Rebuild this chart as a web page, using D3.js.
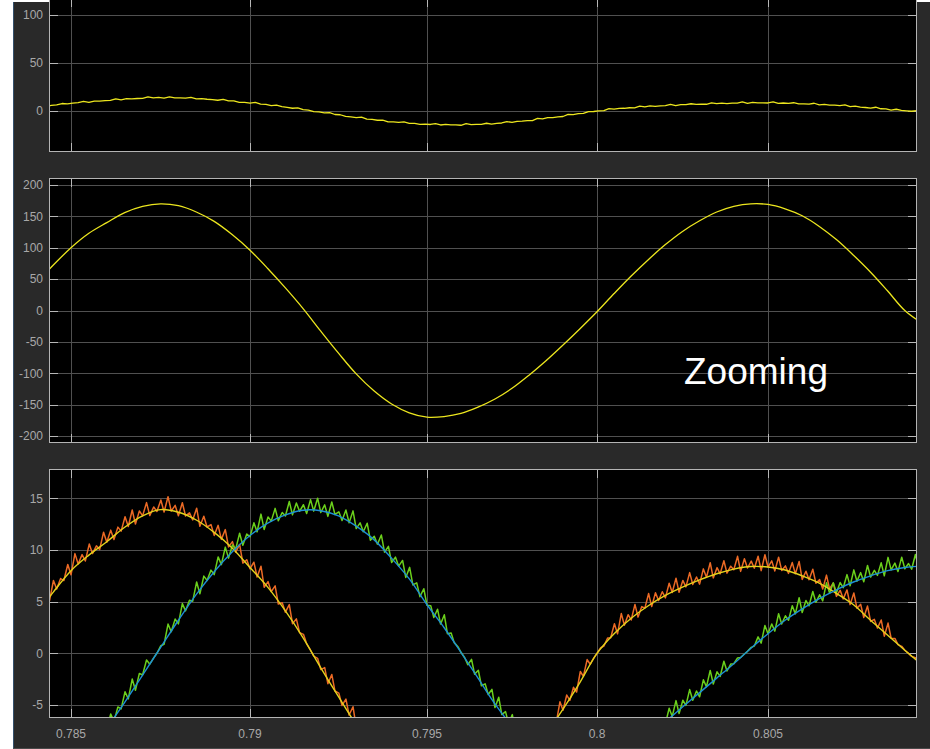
<!DOCTYPE html>
<html><head><meta charset="utf-8">
<script src="https://cdn.jsdelivr.net/npm/d3@7"></script>
<style>
html,body{margin:0;padding:0;background:#ffffff;}
svg{display:block;}
text{font-family:"Liberation Sans",Arial,Helvetica,sans-serif;}
</style></head><body>
<svg id="chart" width="930" height="749"></svg>
<script>
// Sample instants (s)
const time = [0.7840,0.7845,0.7850,0.7855,0.7860,0.7865,0.7870,0.7875,0.7880,0.7885,
              0.7890,0.7895,0.7900,0.7905,0.7910,0.7915,0.7920,0.7925,0.7930,0.7935,
              0.7940,0.7945,0.7950,0.7955,0.7960,0.7965,0.7970,0.7975,0.7980,0.7985,
              0.7990,0.7995,0.8000,0.8005,0.8010,0.8015,0.8020,0.8025,0.8030,0.8035,
              0.8040,0.8045,0.8050,0.8055,0.8060,0.8065,0.8070,0.8075,0.8080,0.8085,
              0.8090,0.8095];
// Supply voltage (V)
const voltage = [41,72,100,123,140,156,166,170,167,157,
                 142,121,96,67,36,3,-33,-68,-101,-128,
                 -149,-163,-170,-169,-164,-154,-141,-124,-103,-80,
                 -55,-29,-2,27,55,81,105,126,143,157,
                 166,170,169,162,151,134,113,88,61,31,
                 0,-20];
// Phase A current, fundamental (A)
const phaseA = [3.6,5.9,8.0,9.5,10.8,12.2,13.3,13.9,13.65,12.9,
                11.7,10.2,8.3,6.4,4.1,1.5,-1.4,-4.2,-6.9,-9.2,
                -11.2,-12.8,-13.9,-14.4,-14.4,-14.0,-13.0,-11.6,-9.9,-7.8,
                -5.4,-2.8,0,1.9,3.4,4.6,5.6,6.4,7.1,7.7,
                8.15,8.4,8.35,8.06,7.5,6.8,5.8,4.7,3.2,1.75,
                0.3,-1.1];
// Phase B current, fundamental (A)
const phaseB = [-13.8,-12.8,-11.3,-9.4,-7.2,-4.75,-2.1,0.55,3.2,5.7,
                7.9,9.8,11.4,12.6,13.4,13.85,13.8,13.3,12.3,11.0,
                9.2,7.2,4.7,2.5,0.1,-2.4,-4.9,-7.0,-8.4,-9.2,
                -9.6,-9.9,-9.9,-9.5,-8.8,-7.9,-6.6,-5.2,-3.8,-2.4,
                -1.0,0.5,1.9,3.2,4.3,5.3,6.15,6.9,7.5,8.0,
                8.3,8.45];

const xTicks = [0.785,0.79,0.795,0.8,0.805];
const xTickLabels = ["0.785","0.79","0.795","0.8","0.805"];
const yTicksTop = [0,50,100];
const yTicksMid = [-200,-150,-100,-50,0,50,100,150,200];
const yTicksBottom = [-5,0,5,10,15];
const annotation = "Zooming";

const W = 930, H = 749;
const plotLeft = 49, plotRight = 917;
const svg = d3.select("#chart");

// figure background and its left border
svg.append("rect").attr("x",13).attr("y",2).attr("width",W-13).attr("height",H-2).attr("fill","#292929");
svg.append("line").attr("x1",13.5).attr("x2",13.5).attr("y1",2).attr("y2",H).attr("stroke","#34506c").attr("stroke-width",1);
svg.append("line").attr("x1",13).attr("x2",W).attr("y1",H-0.5).attr("y2",H-0.5).attr("stroke","#4a4a4a");

// time axis shared by the three scopes (screen scale is not uniform between grid lines)
const x = d3.scaleLinear().domain(xTicks).range([71,250,427,597,768]);

const panels = [
  {top:-2,  bottom:152, y:d3.scaleLinear().domain([0,100]).range([111,15]),     ticks:yTicksTop},
  {top:178, bottom:443, y:d3.scaleLinear().domain([-200,200]).range([436,185]), ticks:yTicksMid},
  {top:469, bottom:718, y:d3.scaleLinear().domain([-5,15]).range([705,498.3]),  ticks:yTicksBottom}
];

const gridColor = "#505050", tickColor = "#b8b8b8", frameColor = "#b4b4b4", labelColor = "#a8a8a8";

function drawPanel(p, idx, showXLabels){
  const g = svg.append("g");
  const clipId = "clip" + idx;
  svg.append("clipPath").attr("id", clipId).append("rect")
    .attr("x", plotLeft).attr("y", p.top).attr("width", plotRight - plotLeft).attr("height", p.bottom - p.top);
  g.append("rect").attr("x", plotLeft).attr("y", p.top).attr("width", plotRight - plotLeft)
    .attr("height", p.bottom - p.top).attr("fill", "#000");

  const yPix = d => Math.round(p.y(d)) + 0.5;
  const xPix = d => Math.round(x(d)) + 0.5;

  // grid
  g.selectAll(".hg").data(p.ticks).join("line")
    .attr("x1", plotLeft).attr("x2", plotRight).attr("y1", yPix).attr("y2", yPix)
    .attr("stroke", gridColor).attr("stroke-width", 1);
  g.selectAll(".vg").data(xTicks).join("line")
    .attr("x1", xPix).attr("x2", xPix).attr("y1", p.top).attr("y2", p.bottom)
    .attr("stroke", gridColor).attr("stroke-width", 1);

  // inward tick marks on all four sides
  const tl = 9;
  g.selectAll(".tl").data(p.ticks).join("line")
    .attr("x1", plotLeft).attr("x2", plotLeft + tl).attr("y1", yPix).attr("y2", yPix).attr("stroke", tickColor);
  g.selectAll(".tr").data(p.ticks).join("line")
    .attr("x1", plotRight - tl).attr("x2", plotRight).attr("y1", yPix).attr("y2", yPix).attr("stroke", tickColor);
  g.selectAll(".tb").data(xTicks).join("line")
    .attr("x1", xPix).attr("x2", xPix).attr("y1", p.bottom - tl).attr("y2", p.bottom).attr("stroke", tickColor);
  g.selectAll(".tt").data(xTicks).join("line")
    .attr("x1", xPix).attr("x2", xPix).attr("y1", p.top).attr("y2", p.top + tl).attr("stroke", tickColor);

  // y tick labels
  g.selectAll(".yl").data(p.ticks).join("text")
    .attr("x", 43).attr("y", d => p.y(d)).attr("dy", "0.36em")
    .attr("text-anchor", "end").attr("font-size", 12).attr("fill", labelColor)
    .text(d => String(d));

  if (showXLabels){
    g.selectAll(".xl").data(xTicks).join("text")
      .attr("x", d => x(d)).attr("y", 738).attr("text-anchor", "middle")
      .attr("font-size", 12).attr("fill", labelColor)
      .text((d,i) => xTickLabels[i]);
  }

  const plot = svg.append("g").attr("clip-path", `url(#${clipId})`);
  // frame drawn last, over the traces
  const frame = () => svg.append("rect").attr("x", plotLeft + 0.5).attr("y", p.top + 0.5)
    .attr("width", plotRight - plotLeft - 1).attr("height", p.bottom - p.top - 1)
    .attr("fill", "none").attr("stroke", frameColor).attr("stroke-width", 1);
  return {plot, frame};
}

const curve = d3.curveCatmullRom.alpha(0.5);

function smoothPath(plot, vals, ys, color, width){
  const pts = time.map((t,i) => [t, vals[i]]);
  plot.append("path")
    .attr("d", d3.line().x(d => x(d[0])).y(d => ys(d[1])).curve(curve)(pts))
    .attr("fill", "none").attr("stroke", color).attr("stroke-width", width)
    .attr("stroke-linejoin", "round");
}

// Trace with PWM switching ripple: teeth are drawn along the rendered fundamental
function rippledPath(plot, vals, ys, color, width, st){
  const pts = time.map((t,i) => [t, vals[i]]);
  const tmp = plot.append("path")
    .attr("d", d3.line().x(d => x(d[0])).y(d => ys(d[1])).curve(curve)(pts))
    .attr("fill", "none").attr("stroke", "none");
  const node = tmp.node(), L = node.getTotalLength();
  const samples = [];
  for (let s = 0; s <= L; s += 0.5){ const q = node.getPointAtLength(s); samples.push([q.x, q.y]); }
  tmp.remove();
  const bis = d3.bisector(d => d[0]).left;
  const yAt = px => {
    let i = bis(samples, px);
    i = Math.max(1, Math.min(samples.length - 1, i));
    const a = samples[i-1], b = samples[i];
    const f = (px - a[0]) / ((b[0] - a[0]) || 1);
    return a[1] + f * (b[1] - a[1]);
  };
  const out = [];
  const t0 = time[0], t1 = time[time.length - 1];
  for (let k = 0; t0 + k * st.period < t1; k++){
    const ta = t0 + k * st.period, tb = ta + st.period * st.rise;
    const xa = x(ta), xb = x(tb);
    const ya = yAt(xa), yb = yAt(xb);
    const v = Math.abs(ys.invert(yb));
    const fade = Math.max(0, Math.min(1, (v - st.dead) / st.ramp));
    const h = st.amp * st.pattern[k % st.pattern.length] * fade;
    const lo = st.amp * st.low[k % st.low.length] * fade;
    out.push([xa, ya + lo]);
    out.push([xb, yb - h]);
  }
  plot.append("path").attr("d", d3.line()(out))
    .attr("fill", "none").attr("stroke", color).attr("stroke-width", width)
    .attr("stroke-linejoin", "round");
}

// top scope: phase A current on a wide scale
const p1 = drawPanel(panels[0], 0, false);
rippledPath(p1.plot, phaseA, panels[0].y, "#ece61e", 1.3,
  {period:0.0003, rise:0.5, amp:1.1, dead:-1, ramp:1,
   pattern:[1,0.2,0.7,0,0.9,0.3,0.1,1,0.5,0], low:[0,0.3,0,0.2,0,0.4,0]});
p1.frame();

// middle scope: supply voltage
const p2 = drawPanel(panels[1], 1, false);
smoothPath(p2.plot, voltage, panels[1].y, "#ece61e", 1.3);
p2.frame();

// bottom scope: phase currents with ripple and their fundamentals
const p3 = drawPanel(panels[2], 2, true);
const rippleStyle = {period:0.0002, rise:0.55, amp:12, dead:0.4, ramp:1.4,
                     pattern:[1,0.55,0.95,0.35,0.8,1.1,0.5,0.9,0.3,1,0.7,0.45,0.85],
                     low:[0.2,0.05,0.3,0.1,0.15,0.35,0,0.25,0.1]};
rippledPath(p3.plot, phaseA, panels[2].y, "#ec6a25", 1.5, rippleStyle);
rippledPath(p3.plot, phaseB, panels[2].y, "#6bd01c", 1.5, rippleStyle);
smoothPath(p3.plot, phaseA, panels[2].y, "#e2d41c", 1.4);
smoothPath(p3.plot, phaseB, panels[2].y, "#1d8fd6", 1.4);
p3.frame();

svg.append("text").attr("x", 684).attr("y", 384)
  .attr("font-size", 37).attr("fill", "#ffffff").text(annotation);
</script>
</body></html>
